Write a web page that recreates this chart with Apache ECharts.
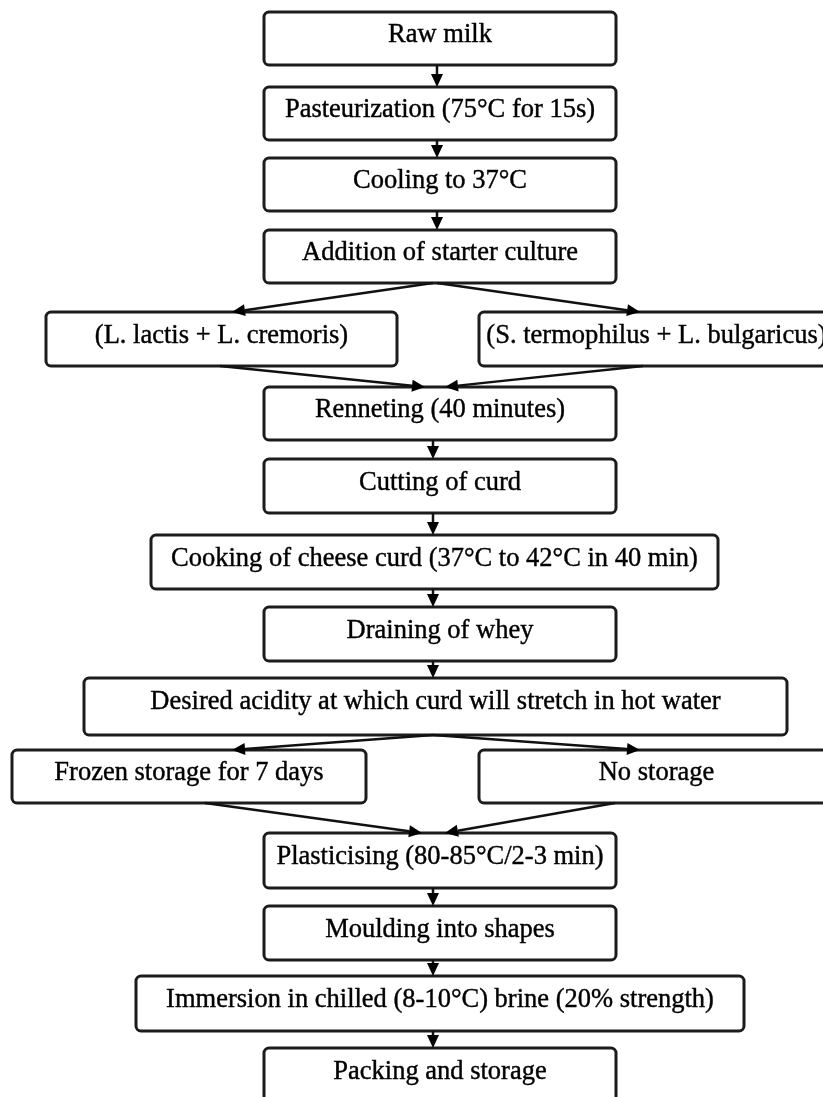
<!DOCTYPE html>
<html>
<head>
<meta charset="utf-8">
<script src="https://cdn.jsdelivr.net/npm/echarts@6/dist/echarts.min.js"></script>
<style>
html,body{margin:0;padding:0;background:#fff;}
#chart{width:823px;height:1097px;}
</style>
</head>
<body>
<div id="chart"></div>
<script>
// Step texts
const labels = [
  'Raw milk',
  'Pasteurization (75°C for 15s)',
  'Cooling to 37°C',
  'Addition of starter culture',
  '(L. lactis + L. cremoris)',
  '(S. termophilus + L. bulgaricus)',
  'Renneting (40 minutes)',
  'Cutting of curd',
  'Cooking of cheese curd (37°C to 42°C in 40 min)',
  'Draining of whey',
  'Desired acidity at which curd will stretch in hot water',
  'Frozen storage for 7 days',
  'No storage',
  'Plasticising (80-85°C/2-3 min)',
  'Moulding into shapes',
  'Immersion in chilled (8-10°C) brine (20% strength)',
  'Packing and storage'
];
// Box layout in diagram units
const boxLeft   = [264,264,264,264, 46,479,264,264,151,264, 84, 12,479,264,264,136,264];
const boxRight  = [616,616,616,616,397,834,616,616,718,616,787,366,834,616,616,744,616];
const boxTop    = [ 12, 87,158,230,312,312,387,459,535,607,678,750,750,833,906,976,1048];
const boxBottom = [ 65,140,211,283,366,366,440,513,589,661,735,803,803,888,960,1031,1110];
// Connections
const edgeFrom   = [0,1,2,3,3,4,5,6,7,8,9,10,10,11,12,13,14,15];
const edgeTo     = [1,2,3,4,5,6,6,7,8,9,10,11,12,13,13,14,15,16];
const edgeStartX = [437,437,437,433,437,220,643,433,433,433,433,433,433,205,615,433,433,433];
const edgeEndX   = [437,437,437,232,640,425,445,433,433,433,433,232,640,422,445,433,433,433];

const boxData = labels.map((t, i) => [boxLeft[i], boxTop[i], boxRight[i], boxBottom[i], i]);
const edgeData = edgeFrom.map((f, i) => [edgeStartX[i], boxBottom[f], edgeEndX[i], boxTop[edgeTo[i]]]);

const chart = echarts.init(document.getElementById('chart'), null, {renderer: 'canvas'});
chart.setOption({
  animation: false,
  backgroundColor: '#ffffff',
  grid: {left: 0, right: 0, top: 0, bottom: 0},
  xAxis: {type: 'value', min: 0, max: 823, show: false},
  yAxis: {type: 'value', min: 0, max: 1097, inverse: true, show: false},
  series: [
    {
      type: 'custom',
      z: 2,
      data: boxData,
      renderItem: function (params, api) {
        const p1 = api.coord([api.value(0), api.value(1)]);
        const p2 = api.coord([api.value(2), api.value(3)]);
        const idx = api.value(4);
        const w = p2[0] - p1[0], h = p2[1] - p1[1];
        const cy = p1[1] + (api.coord([0, Math.min(api.value(3), api.value(1) + 54)])[1] - p1[1]) / 2;
        return {
          type: 'group',
          children: [
            {type: 'rect', shape: {x: p1[0], y: p1[1], width: w, height: h, r: 5},
             style: {fill: '#ffffff', stroke: '#1c1c1c', lineWidth: 3}},
            {type: 'text', style: {text: labels[idx], x: p1[0] + w / 2, y: cy - 3,
             fill: '#000', fontSize: 26.5, fontFamily: '"Liberation Serif", "Times New Roman", serif',
             stroke: '#000', lineWidth: 0.4,
             align: 'center', verticalAlign: 'middle'}}
          ]
        };
      }
    },
    {
      type: 'custom',
      z: 3,
      data: edgeData,
      renderItem: function (params, api) {
        const a = api.coord([api.value(0), api.value(1)]);
        const b = api.coord([api.value(2), api.value(3)]);
        const dx = b[0] - a[0], dy = b[1] - a[1];
        const len = Math.sqrt(dx * dx + dy * dy);
        const ux = dx / len, uy = dy / len;
        const L = 13, W = 6;
        const bx = b[0] - ux * L, by = b[1] - uy * L;
        return {
          type: 'group',
          children: [
            {type: 'line', shape: {x1: a[0], y1: a[1], x2: bx, y2: by},
             style: {stroke: '#111', lineWidth: 2.5}},
            {type: 'polygon', shape: {points: [[b[0], b[1]], [bx - uy * W, by + ux * W], [bx + uy * W, by - ux * W]]},
             style: {fill: '#000'}}
          ]
        };
      }
    }
  ]
});
</script>
</body>
</html>
